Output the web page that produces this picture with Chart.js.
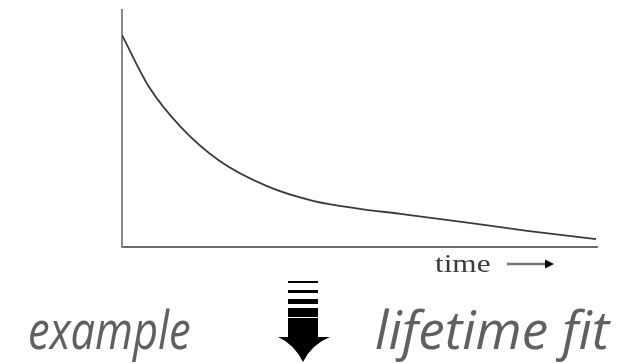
<!DOCTYPE html>
<html lang="en">
<head>
    <meta charset="UTF-8">
    <title>lifetime fit</title>
    <script src="https://cdn.jsdelivr.net/npm/chart.js@4.4.0/dist/chart.umd.min.js"></script>
    <style>
        body{ margin:0; background:#fff; }
        #board{ position:relative; width:632px; height:363px; overflow:hidden; }
        #chart1{ position:absolute; left:0; top:0; }
        .cap{ position:absolute; top:302px; font-family:"Open Sans",sans-serif; font-style:italic;
              color:#606060; font-size:53px; line-height:1; white-space:nowrap; }
        #left{ transform:scaleX(0.82); transform-origin:left top; }
        #arrow{ position:absolute; left:278px; top:280px; }
    </style>
</head>
<body>
    <div id="board">
        <canvas id="chart1" width="632" height="280"></canvas>
        <div class="cap" id="left">example</div>
        <svg id="arrow" width="54" height="83" viewBox="0 0 54 83">
            <rect x="10" y="1" width="30" height="2" fill="#000"/>
            <rect x="10" y="10" width="30" height="3" fill="#000"/>
            <rect x="10" y="19" width="30" height="5" fill="#000"/>
            <rect x="10" y="28" width="30" height="9" fill="#000"/>
            <path d="M10 38 H40 V57 H52 Q34 64 25 82 Q16 64 0 57 H10 Z" fill="#000"/>
        </svg>
        <div class="cap" id="right">lifetime fit</div>
    </div>
<script>
    // decay curve (time 0..10, intensity 0..1)
    const times = [0, 0.57, 1.24, 2.05, 3.04, 4.02, 5.01, 5.86, 7.27, 8.53, 9.98];
    const intensity = [0.894, 0.675, 0.506, 0.364, 0.258, 0.195, 0.161, 0.140, 0.103, 0.068, 0.033];
    const axisLabel = 'time';

    const points = times.map((t, i) => ({x: t, y: intensity[i]}));

    // "time ->" under the right end of the x axis
    const timeLabel = {
        id: 'timeLabel',
        afterDraw(chart){
            const c = chart.ctx;
            const a = chart.chartArea;
            c.save();
            c.fillStyle = '#3a3a3a';
            c.textBaseline = 'alphabetic';
            c.translate(a.right - 162, a.bottom + 25);
            c.scale(1.25, 1);
            c.font = '25px "Liberation Serif", serif';
            c.fillText(axisLabel, 0, 0);
            c.restore();
            // little arrow
            const y = a.bottom + 17;
            c.save();
            c.strokeStyle = '#777';
            c.lineWidth = 2.5;
            c.beginPath();
            c.moveTo(a.right - 90, y);
            c.lineTo(a.right - 50, y);
            c.stroke();
            c.fillStyle = '#000';
            c.beginPath();
            c.moveTo(a.right - 52, y - 4.5);
            c.lineTo(a.right - 43, y);
            c.lineTo(a.right - 52, y + 4.5);
            c.closePath();
            c.fill();
            c.restore();
        }
    };

    new Chart(document.getElementById('chart1').getContext('2d'), {
        type: 'line',
        data: {
            datasets: [{
                data: points,
                borderColor: '#3a3a3a',
                borderWidth: 1.8,
                pointRadius: 0,
                cubicInterpolationMode: 'monotone',
                fill: false
            }]
        },
        options: {
            responsive: false,
            animation: false,
            events: [],
            layout: { padding: { left: 122, right: 35, top: 10, bottom: 33 } },
            plugins: { legend: { display: false }, tooltip: { enabled: false } },
            scales: {
                x: {
                    type: 'linear', min: 0, max: 10,
                    grid: { display: false, drawTicks: false },
                    ticks: { display: false },
                    border: { color: '#6a6a6a', width: 2 }
                },
                y: {
                    min: 0, max: 1,
                    grid: { display: false, drawTicks: false },
                    ticks: { display: false },
                    border: { color: '#8a8a8a', width: 2 }
                }
            }
        },
        plugins: [timeLabel]
    });

    document.getElementById('left').style.left = '28px';
    document.getElementById('right').style.left = '375px';
</script>
</body>
</html>
